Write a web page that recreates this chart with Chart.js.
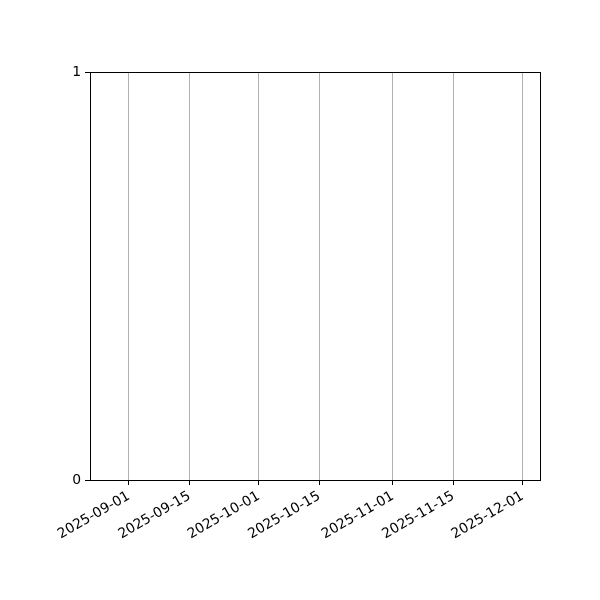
<!DOCTYPE html>
<html lang="en">
<head>
    <meta charset="UTF-8">
    <title>Empty date chart</title>
    <script src="https://cdn.jsdelivr.net/npm/chart.js"></script>
    <style>
        body {
            margin: 0;
            padding: 0;
            background: #ffffff;
        }
        .container {
            width: 600px;
            height: 600px;
        }
    </style>
</head>
<body>
    <div class="container">
        <canvas id="chartCanvas" width="600" height="600"></canvas>
    </div>

    <script>
        // Data (the plot holds no series)
        const xRange = ['2025-08-23', '2025-12-05'];
        const tickDates = ['2025-09-01', '2025-09-15', '2025-10-01', '2025-10-15', '2025-11-01', '2025-11-15', '2025-12-01'];
        const yTicks = [0, 1];
        const seriesValues = [];

        const DAY = 86400000;
        const toDay = s => Date.parse(s + 'T00:00:00Z') / DAY;
        const fromDay = d => new Date(d * DAY).toISOString().slice(0, 10);

        // Black frame around the plot area
        const frame = {
            id: 'frame',
            afterDraw(chart) {
                const a = chart.chartArea;
                const ctx = chart.ctx;
                ctx.save();
                ctx.strokeStyle = '#000000';
                ctx.lineWidth = 1;
                ctx.strokeRect(Math.round(a.left) + 0.5, Math.round(a.top) + 0.5,
                    Math.round(a.right - a.left), Math.round(a.bottom - a.top));
                ctx.restore();
            }
        };

        const font = { family: 'DejaVu Sans', size: 13.9 };

        new Chart(document.getElementById('chartCanvas').getContext('2d'), {
            type: 'line',
            data: {
                datasets: [{
                    label: 'series',
                    data: seriesValues,
                    borderColor: '#1f77b4'
                }]
            },
            options: {
                responsive: false,
                animation: false,
                layout: { padding: { left: 0, right: 60, top: 72, bottom: 0 } },
                plugins: {
                    legend: { display: false },
                    tooltip: { enabled: false }
                },
                scales: {
                    x: {
                        type: 'linear',
                        min: toDay(xRange[0]),
                        max: toDay(xRange[1]),
                        afterBuildTicks: scale => {
                            scale.ticks = tickDates.map(d => ({ value: toDay(d) }));
                        },
                        afterFit: scale => { scale.height = 120; },
                        ticks: {
                            callback: v => fromDay(v),
                            minRotation: 30,
                            maxRotation: 30,
                            autoSkip: false,
                            color: '#000000',
                            font: font,
                            padding: 3
                        },
                        grid: {
                            color: '#b0b0b0',
                            tickColor: '#000000',
                            tickLength: 5,
                            lineWidth: 1
                        },
                        border: { display: true, color: '#000000' }
                    },
                    y: {
                        type: 'linear',
                        min: 0,
                        max: 1,
                        afterBuildTicks: scale => {
                            scale.ticks = yTicks.map(v => ({ value: v }));
                        },
                        afterFit: scale => { scale.width = 90; },
                        ticks: {
                            color: '#000000',
                            font: font,
                            padding: 4
                        },
                        grid: {
                            drawOnChartArea: false,
                            tickColor: '#000000',
                            tickLength: 5
                        },
                        border: { display: true, color: '#000000' }
                    }
                }
            },
            plugins: [frame]
        });
    </script>
</body>
</html>
